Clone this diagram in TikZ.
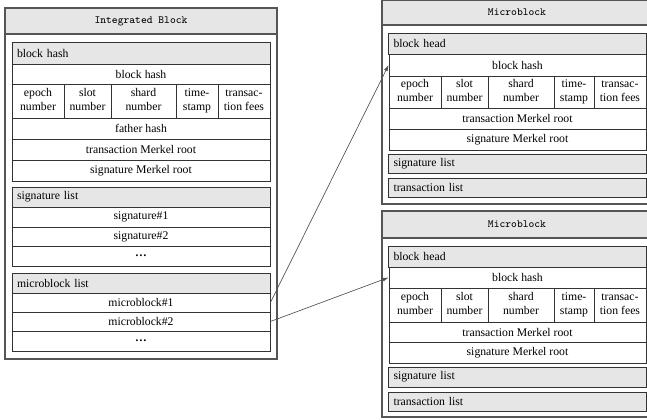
\documentclass[tikz,border=0pt]{standalone}
\usepackage{fontspec}
\setmainfont{Liberation Serif}
\usetikzlibrary{arrows.meta}
\definecolor{hdrgray}{HTML}{E6E6E6}
\definecolor{lin}{HTML}{333333}
\definecolor{outl}{HTML}{555555}
\newcommand\bx[7]{\node[#1, minimum width={(#5-#3)*0.75pt}, minimum height={(#6-#4)*0.75pt}] (#2) at ({(#3+#5)/2},{(#4+#6)/2}) {#7};}
\newcommand\twoln[2]{\strut#1\\\strut#2}
\begin{document}
\begin{tikzpicture}[x=0.75pt,y=-0.75pt,
  cell/.style={draw=lin, line width=0.6pt, fill=white, inner sep=0pt, align=center, font=\rmfamily\fontsize{8.8}{10.2}\selectfont},
  hdr/.style={cell, fill=hdrgray, text width=186pt, inner xsep=3.5pt, align=left},
  outer/.style={draw=outl, line width=1.1pt, fill=white, inner sep=0pt},
  ttl/.style={outer, fill=hdrgray, font=\ttfamily\fontsize{8.2}{10}\selectfont},
  arr/.style={draw=lin!85, line width=0.5pt, -{Latex[length=4.5pt,width=3pt]}}]
\useasboundingbox (0,0) rectangle (647,419);
% ---------------- Integrated Block ----------------
\bx{outer}{ib}{5}{8}{277}{359}{}
\bx{ttl}{ibt}{5}{8}{277}{34}{Integrated Block}
\bx{hdr}{lbhh}{12}{42}{270}{64}{block hash}
\bx{cell}{lbh}{12}{64}{270}{84}{block hash}
\bx{cell}{lep}{12}{84}{64}{118}{\twoln{epoch}{number}}
\bx{cell}{lsl}{64}{84}{111}{118}{\twoln{slot}{number}}
\bx{cell}{lsh}{111}{84}{176}{118}{\twoln{shard}{number}}
\bx{cell}{lts}{176}{84}{218}{118}{\twoln{time-}{stamp}}
\bx{cell}{ltf}{218}{84}{270}{118}{\twoln{transac-}{tion fees}}
\bx{cell}{lfh}{12}{118}{270}{139}{father hash}
\bx{cell}{ltm}{12}{139}{270}{160}{transaction Merkel root}
\bx{cell}{lsm}{12}{160}{270}{181}{signature Merkel root}
\bx{hdr}{lslh}{12}{187}{270}{207}{signature list}
\bx{cell}{ls1}{12}{207}{270}{227}{signature\#1}
\bx{cell}{ls2}{12}{227}{270}{246}{signature\#2}
\bx{cell}{lsd}{12}{246}{270}{266}{\textbf{…}}
\bx{hdr}{lmlh}{12}{273}{270}{293}{microblock list}
\bx{cell}{lmb1}{12}{293}{270}{312}{microblock\#1}
\bx{cell}{lmb2}{12}{312}{270}{331}{microblock\#2}
\bx{cell}{lmd}{12}{331}{270}{351}{\textbf{…}}
% ---------------- Microblock (top) ----------------
\bx{outer}{tm}{382}{0}{652}{204}{}
\bx{ttl}{tmt}{382}{0}{652}{25}{Microblock}
\bx{hdr}{thh}{389}{33}{646}{54}{block head}
\bx{cell}{tbh}{389}{54}{646}{76}{block hash}
\bx{cell}{tep}{389}{76}{441}{108}{\twoln{epoch}{number}}
\bx{cell}{tsl}{441}{76}{488}{108}{\twoln{slot}{number}}
\bx{cell}{tsh}{488}{76}{554}{108}{\twoln{shard}{number}}
\bx{cell}{tts}{554}{76}{594}{108}{\twoln{time-}{stamp}}
\bx{cell}{ttf}{594}{76}{646}{108}{\twoln{transac-}{tion fees}}
\bx{cell}{ttm}{389}{108}{646}{129}{transaction Merkel root}
\bx{cell}{tsm}{389}{129}{646}{150}{signature Merkel root}
\bx{hdr}{tsg}{389}{154}{646}{173}{signature list}
\bx{hdr}{ttx}{389}{178}{646}{197}{transaction list}
% ---------------- Microblock (bottom) ----------------
\bx{outer}{bm}{382}{211}{652}{417}{}
\bx{ttl}{bmt}{382}{211}{652}{238}{Microblock}
\bx{hdr}{bhh}{389}{246}{646}{267}{block head}
\bx{cell}{bbh}{389}{267}{646}{288}{block hash}
\bx{cell}{bep}{389}{288}{441}{322}{\twoln{epoch}{number}}
\bx{cell}{bsl}{441}{288}{488}{322}{\twoln{slot}{number}}
\bx{cell}{bsh}{488}{288}{554}{322}{\twoln{shard}{number}}
\bx{cell}{bts}{554}{288}{594}{322}{\twoln{time-}{stamp}}
\bx{cell}{btf}{594}{288}{646}{322}{\twoln{transac-}{tion fees}}
\bx{cell}{btm}{389}{322}{646}{342}{transaction Merkel root}
\bx{cell}{bsm}{389}{342}{646}{363}{signature Merkel root}
\bx{hdr}{bsg}{389}{367}{646}{387}{signature list}
\bx{hdr}{btx}{389}{392}{646}{411}{transaction list}
% ---------------- connectors ----------------
\draw[arr] (lmb1.east) -- (tbh.west);
\draw[arr] (lmb2.east) -- (bbh.west);
\end{tikzpicture}
\end{document}
